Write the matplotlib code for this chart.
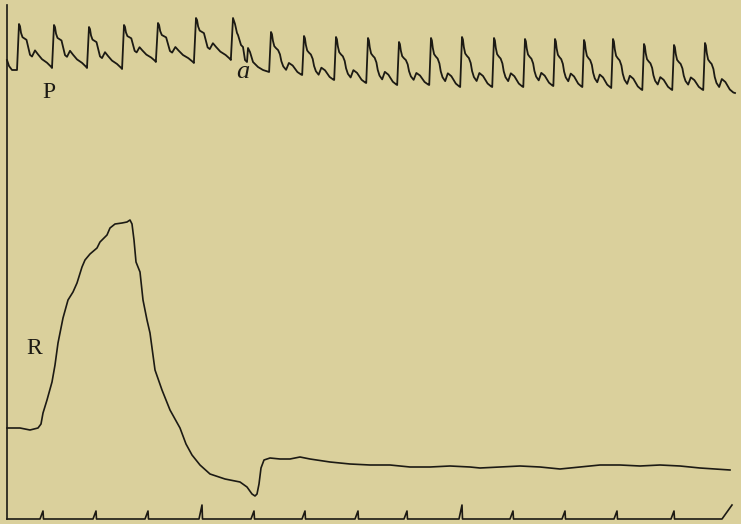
import matplotlib.pyplot as plt

# ---- pulse tracing (P) ----
# peak position / peak level / trough level before each upstroke (px, y down)
beat_x = [19, 54, 89, 124, 158, 196, 233, 271, 304, 336, 368, 399, 431, 462,
          494, 525, 555, 584, 613, 644, 674, 705]
beat_peak = [24, 25, 27, 25, 23, 18, 18, 32, 36, 37, 38, 42, 38, 37,
             38, 39, 39, 40, 39, 44, 45, 43]
beat_trough = [70, 68, 68, 69, 62, 63, 60, 72, 75, 80, 83, 85, 85, 87,
               87, 87, 86, 87, 88, 90, 90, 90]
p_start_x = [7, 9, 12]
p_start_y = [60, 66, 70]
p_end_x = [735]
p_end_y = [93]

# pulse wave read off the tracing: offset from peak (at a 35 px period)
# and depth (0 = peak, 1 = trough); early beats and the beats after "a"
shape_dx = [-2, 0, 1, 2, 3.5, 5.5, 7.5, 9.5, 11, 13, 16, 19, 23, 28, 32]
shape_early = [1.0, 0.0, 0.05, 0.20, 0.30, 0.33, 0.36, 0.55, 0.70, 0.74,
               0.60, 0.69, 0.80, 0.88, 0.97]
shape_late = [1.0, 0.0, 0.05, 0.20, 0.33, 0.38, 0.42, 0.52, 0.68, 0.80,
              0.88, 0.72, 0.78, 0.93, 0.99]

# the irregular beat marked "a"
a_beat_x = [235, 237, 238, 241, 243, 245, 247, 248, 250, 253, 258, 263]
a_beat_y = [24, 33, 35, 45, 47, 60, 62, 48, 52, 62, 67, 70]
a_index = 6

# ---- respiration / volume tracing (R) ----
r_x = [7, 20, 30, 38, 41, 43, 47, 52, 55, 58, 63, 68, 73, 77, 82, 85, 90, 97,
       100, 107, 110, 115, 122, 127, 130, 132, 134, 136, 140, 143, 147, 150,
       155, 162, 170, 180, 186, 192, 200, 210, 225, 240, 247, 252, 255, 257,
       259, 261, 264, 270, 280, 290, 300, 310, 330, 350, 370, 390, 410, 430,
       450, 470, 480, 500, 520, 540, 560, 580, 600, 620, 640, 660, 680, 700,
       715, 730]
r_y = [428, 428, 430, 428, 424, 413, 400, 382, 365, 343, 318, 300, 292, 283,
       267, 260, 254, 248, 242, 235, 228, 224, 223, 222, 220, 224, 240, 262,
       272, 300, 320, 333, 370, 390, 410, 428, 444, 455, 465, 474, 479, 482,
       487, 494, 496, 494, 484, 468, 460, 458, 459, 459, 457, 459, 462, 464,
       465, 465, 467, 467, 466, 467, 468, 467, 466, 467, 469, 467, 465, 465,
       466, 465, 466, 468, 469, 470]

# ---- time marks ----
mark_x = [43, 96, 148, 202, 254, 305, 358, 407, 462, 513, 565, 617, 674]
mark_tall = [False, False, False, True, False, False, False, False, True,
             False, False, False, False]
base_y = 519
end_mark = (722, 732)

ink = '#1c1a14'
paper = '#dad09c'

fig = plt.figure(figsize=(7.41, 5.24), dpi=100, facecolor=paper)
ax = fig.add_axes([0, 0, 1, 1])
ax.set_facecolor(paper)
ax.set_xlim(0, 741)
ax.set_ylim(524, 0)
ax.axis('off')

# build pulse trace from the beat table
px, py = list(p_start_x), list(p_start_y)
for i, (x0, pk, tr) in enumerate(zip(beat_x, beat_peak, beat_trough)):
    period = (beat_x[i + 1] - x0) if i + 1 < len(beat_x) else (x0 - beat_x[i - 1])
    tr_next = beat_trough[i + 1] if i + 1 < len(beat_x) else p_end_y[0]
    shape = shape_early if i <= a_index else shape_late
    scale = period / 35.0
    for dx, d in zip(shape_dx, shape):
        if dx <= 0:
            px.append(x0 + dx * scale)
            py.append(pk + d * (tr - pk))
        elif i != a_index:
            px.append(x0 + dx * scale)
            py.append(pk + d * (tr_next - pk))
    if i == a_index:
        px += a_beat_x
        py += a_beat_y
px += p_end_x
py += p_end_y
ax.plot(px, py, color=ink, lw=1.3, solid_joinstyle='round')

ax.plot(r_x, r_y, color=ink, lw=1.2, solid_joinstyle='round')

# left frame line
ax.plot([7, 7], [5, base_y], color=ink, lw=1.2)

# time base with marks
tx, ty = [7], [base_y]
for x, tall in zip(mark_x, mark_tall):
    h = 14 if tall else 8
    tx += [x - 3, x, x + 0.5]
    ty += [base_y, base_y - h, base_y]
tx += [end_mark[0], end_mark[1]]
ty += [base_y, base_y - 14]
ax.plot(tx, ty, color=ink, lw=1.2)

serif = ['Liberation Serif', 'DejaVu Serif']
ax.text(49, 92, 'P', family=serif, fontsize=17, color=ink, ha='center', va='center')
ax.text(34, 348, 'R', family=serif, fontsize=17, color=ink, ha='center', va='center')
ax.text(243, 72, 'a', family=serif, fontsize=19, style='italic', color=ink,
        ha='center', va='center')

fig.savefig('out.png', dpi=100, facecolor=paper)
